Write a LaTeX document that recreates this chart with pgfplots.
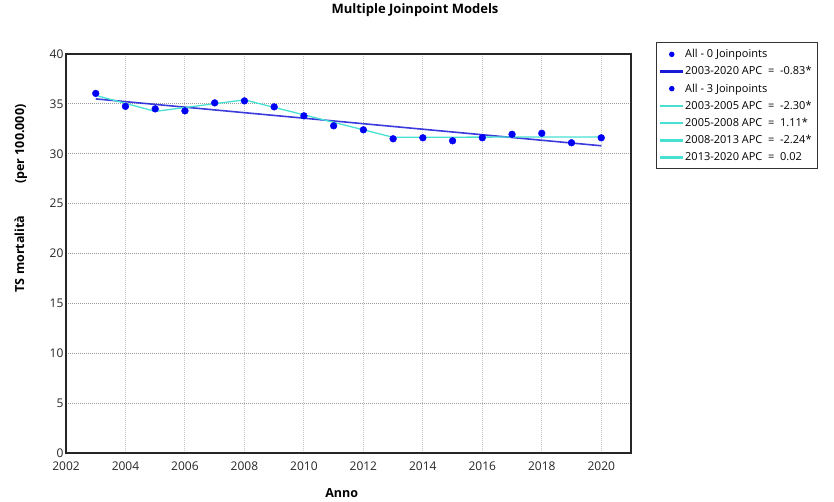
\documentclass[border=0pt]{standalone}
\usepackage{pgfplots}
\pgfplotsset{compat=1.18}
\usepackage{fontspec}
\setmainfont{Open Sans}
\definecolor{dotblue}{RGB}{0,0,245}
\definecolor{lineblue}{RGB}{25,25,215}
\definecolor{turq}{RGB}{72,224,210}
\pgfplotsset{
  dotleg/.style={legend image code/.code={\fill[dotblue] (11pt,0pt) circle (2.3pt);}},
  blueleg/.style={legend image code/.code={\fill[lineblue] (0pt,-0.9pt) rectangle (22pt,0.9pt);}},
  turqleg/.style={legend image code/.code={\fill[turq] (0pt,-0.9pt) rectangle (22pt,0.9pt);}},
}
\begin{document}
\begin{tikzpicture}[x=1pt,y=1pt]
\begin{axis}[
  scale only axis,
  width=565pt, height=399pt,
  xmin=2002, xmax=2021, ymin=0, ymax=40,
  xtick={2002,2004,...,2020}, ytick={0,5,...,40},
  xticklabel style={/pgf/number format/1000 sep={}, yshift=-5pt},
  yticklabel style={xshift=1pt},
  /pgf/number format/assume math mode=true,
  tick label style={font=\fontsize{12}{14}\selectfont, text=black!85},
  major tick length=0pt,
  xmajorgrids, ymajorgrids,
  x grid style={dash pattern=on 1pt off 1pt, gray!45, line width=0.9pt},
  y grid style={dash pattern=on 1pt off 1pt, gray!80, line width=0.8pt},
  axis line style={black!85, line width=1.1pt},
  title={\textbf{Multiple Joinpoint Models}},
  title style={font=\fontsize{13}{15}\selectfont, at={(rel axis cs:0.6177,1.0952)}, anchor=center},
  xlabel={\textbf{Anno}},
  xlabel style={font=\fontsize{12.5}{15}\selectfont, at={(rel axis cs:0.488,-0.100)}, anchor=center},
  ylabel={\textbf{TS mortalità\hspace{32pt}(per 100.000)}},
  ylabel style={font=\fontsize{12.5}{15}\selectfont, at={(rel axis cs:-0.080,0.638)}, anchor=center, rotate=0},
  legend style={at={(rel axis cs:1.0442,1.030)}, anchor=north west,
    font=\fontsize{11}{12}\selectfont, draw=black!80, line width=0.8pt,
    inner xsep=4pt, inner ysep=5pt, row sep=3.3pt, cells={anchor=west}},
  legend cell align=left,
  clip=false,
]
\coordinate (ll) at (rel axis cs:0,0);
\coordinate (ur) at (rel axis cs:1,1);
% 0 joinpoints fit
\addplot[lineblue, line width=1.6pt, opacity=0.85, forget plot] coordinates {(2003,35.5) (2020,30.8)};
% 3 joinpoints fit
\addplot[turq, line width=1.3pt, forget plot] coordinates {(2003,35.85) (2005,34.25)};
\addplot[turq, line width=1.3pt, forget plot] coordinates {(2005,34.25) (2008,35.4)};
\addplot[turq, line width=1.3pt, forget plot] coordinates {(2008,35.4) (2013,31.65)};
\addplot[turq, line width=1.3pt, forget plot] coordinates {(2013,31.65) (2020,31.69)};
% observed
\addplot[only marks, mark=*, mark size=3.4pt, dotblue, forget plot] coordinates {
(2003,36.05) (2004,34.75) (2005,34.5) (2006,34.3) (2007,35.1) (2008,35.3)
(2009,34.7) (2010,33.8) (2011,32.8) (2012,32.4) (2013,31.5) (2014,31.6)
(2015,31.3) (2016,31.6) (2017,31.95) (2018,32.05) (2019,31.1) (2020,31.6)};
\addlegendimage{dotleg}
\addlegendentry{All - 0 Joinpoints}
\addlegendimage{blueleg}
\addlegendentry{2003-2020 APC\ \ =\ \ -0.83*}
\addlegendimage{dotleg}
\addlegendentry{All - 3 Joinpoints}
\addlegendimage{turqleg}
\addlegendentry{2003-2005 APC\ \ =\ \ -2.30*}
\addlegendimage{turqleg}
\addlegendentry{2005-2008 APC\ \ =\ \ 1.11*}
\addlegendimage{turqleg}
\addlegendentry{2008-2013 APC\ \ =\ \ -2.24*}
\addlegendimage{turqleg}
\addlegendentry{2013-2020 APC\ \ =\ \ 0.02}
\end{axis}
\pgfresetboundingbox
\path[use as bounding box] ([shift={(-66pt,-48pt)}]ll) rectangle ([shift={(203pt,54pt)}]ur);
\end{tikzpicture}
\end{document}
